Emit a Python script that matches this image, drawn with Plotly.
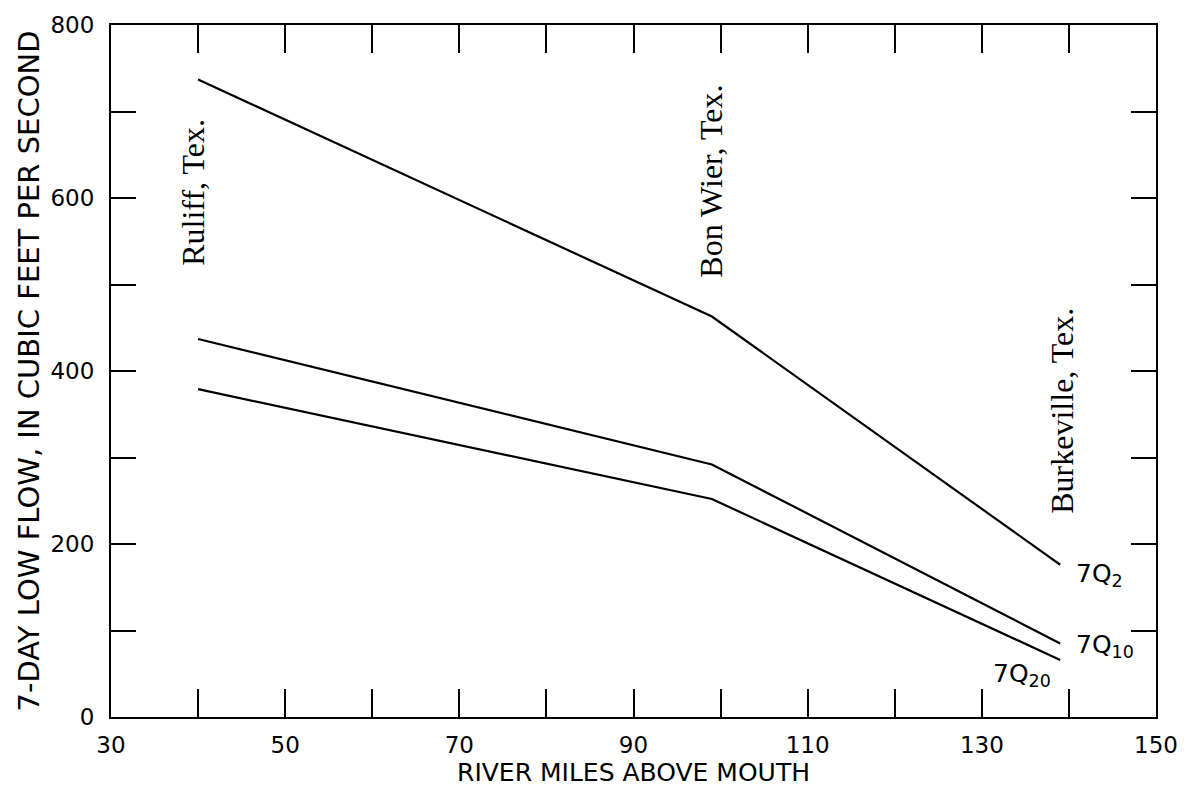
import plotly.graph_objects as go

river_miles = [40, 99, 139]
q7_2 = [737, 463, 176]
q7_10 = [437, 292, 85]
q7_20 = [379, 252, 66]

x_ticks = list(range(30, 151, 10))
x_labels = [str(v) if (v - 30) % 20 == 0 else "" for v in x_ticks]
y_ticks = list(range(0, 801, 100))
y_labels = [str(v) if v % 200 == 0 else "" for v in y_ticks]

stations = ["Ruliff, Tex.", "Bon Wier, Tex.", "Burkeville, Tex."]
station_x = [39.4, 98.8, 139.2]
station_y = [607, 619, 354]

series_labels = ["7Q<sub>2</sub>", "7Q<sub>10</sub>", "7Q<sub>20</sub>"]
label_x = [140.6, 140.6, 131.0]
label_y = [164, 82, 48]

fig = go.Figure()
for ys in (q7_2, q7_10, q7_20):
    fig.add_trace(go.Scatter(x=river_miles, y=ys, mode="lines",
                             line=dict(color="black", width=2.2),
                             showlegend=False, hoverinfo="skip"))

for name, sx, sy in zip(stations, station_x, station_y):
    fig.add_annotation(x=sx, y=sy, xref="x", yref="y", text=name,
                       showarrow=False, textangle=-90,
                       font=dict(family="Liberation Serif", size=32, color="black"))

for name, lx, ly in zip(series_labels, label_x, label_y):
    fig.add_annotation(x=lx, y=ly, xref="x", yref="y", text=name,
                       showarrow=False, xanchor="left", yanchor="middle",
                       font=dict(family="DejaVu Sans", size=25, color="black"))

axis_common = dict(showgrid=False, zeroline=False, showline=True,
                   linecolor="black", linewidth=2, mirror="ticks",
                   ticks="inside", tickcolor="black", tickwidth=2)

fig.update_xaxes(range=[30, 150], tickvals=x_ticks, ticktext=x_labels,
                 ticklen=28, ticklabelstandoff=6,
                 tickfont=dict(family="DejaVu Sans", size=23, color="black"),
                 title=dict(text="RIVER MILES ABOVE MOUTH", standoff=0,
                            font=dict(family="DejaVu Sans", size=25, color="black")),
                 **axis_common)
fig.update_yaxes(range=[0, 800], tickvals=y_ticks, ticktext=y_labels,
                 ticklen=25, ticklabelstandoff=10,
                 tickfont=dict(family="DejaVu Sans", size=23, color="black"),
                 title=dict(text="7-DAY LOW FLOW, IN CUBIC FEET PER SECOND", standoff=2,
                            font=dict(family="DejaVu Sans", size=29, color="black")),
                 **axis_common)

fig.update_layout(width=1190, height=787, autosize=False,
                  margin=dict(l=111, r=32, t=20, b=69),
                  paper_bgcolor="white", plot_bgcolor="white")

fig.write_html("out.html")
